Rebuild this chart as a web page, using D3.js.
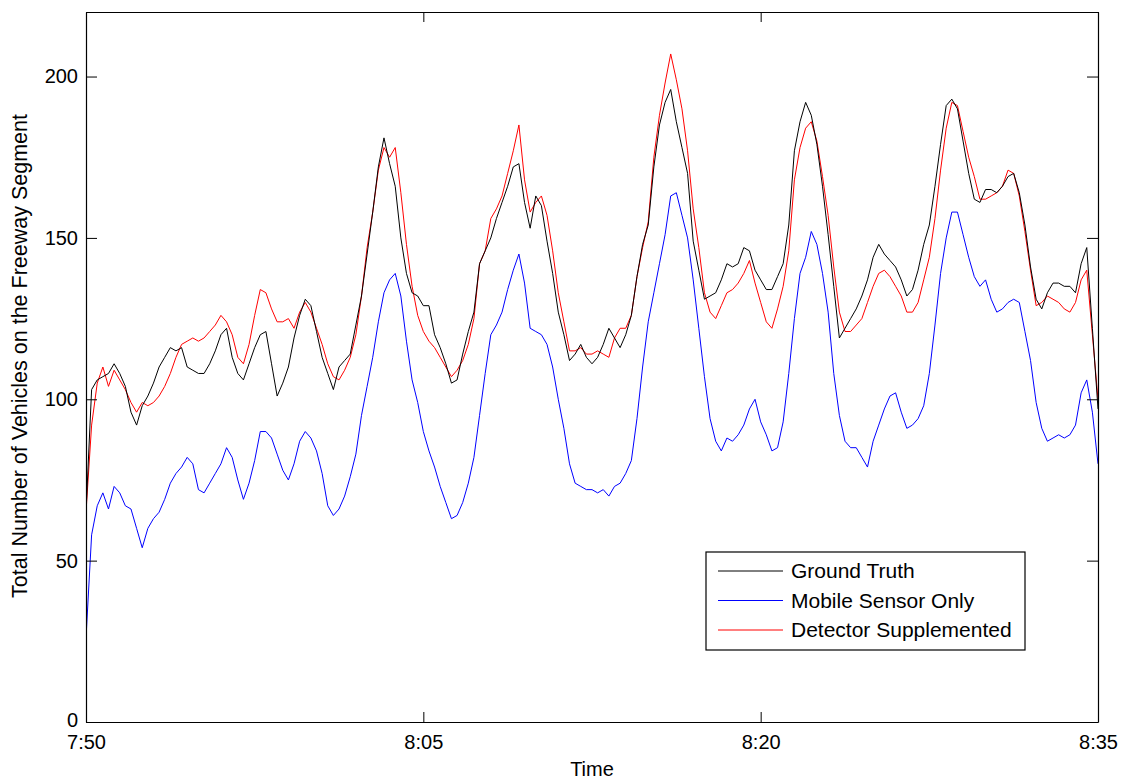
<!DOCTYPE html>
<html lang="en">
<head>
<meta charset="UTF-8">
<title>Total Number of Vehicles on the Freeway Segment</title>
<script src="https://d3js.org/d3.v7.min.js"></script>
<style>
  body { margin: 0; background: #fff; }
  svg { display: block; font-family: "Liberation Sans", Arial, sans-serif; }
  .tick text { font-size: 20px; fill: #000; }
  .series { fill: none; stroke-width: 1; }
</style>
</head>
<body>
<div id="chart"></div>
<script>
// sample times, minutes after 7:50 (one reading every 15 s)
const minutes = d3.range(181).map(i => i * 0.25);

const xTickValues = [0, 15, 30, 45];
const xTickLabels = ["7:50", "8:05", "8:20", "8:35"];
const yTickValues = [0, 50, 100, 150, 200];

const seriesNames = ["Ground Truth", "Mobile Sensor Only", "Detector Supplemented"];
const seriesColors = ["#000000", "#0000ff", "#ff0000"];

// Ground Truth
const groundTruth = [
  65, 103, 106, 107, 108, 111, 108, 104, 96, 92,
  98, 101, 105, 110, 113, 116, 115, 116, 110, 109,
  108, 108, 111, 115, 120, 122, 113, 108, 106, 111,
  116, 120, 121, 111, 101, 105, 110, 119, 126, 131,
  129, 121, 113, 108, 103, 110, 112, 114, 123, 132,
  145, 158, 172, 181, 173, 166, 150, 139, 133, 132,
  129, 129, 120, 116, 111, 105, 106, 114, 121, 127,
  142, 146, 150, 156, 161, 166, 172, 173, 161, 153,
  163, 160, 149, 139, 127, 120, 112, 114, 117, 113,
  111, 113, 117, 122, 119, 116, 120, 126, 138, 148,
  154, 172, 185, 192, 196, 186, 178, 170, 149, 140,
  131, 132, 133, 137, 142, 141, 142, 147, 146, 140,
  137, 134, 134, 138, 142, 154, 177, 186, 192, 188,
  179, 166, 151, 135, 119, 122, 125, 128, 132, 137,
  144, 148, 145, 143, 141, 137, 132, 134, 140, 148,
  154, 166, 179, 191, 193, 190, 180, 170, 162, 161,
  165, 165, 164, 166, 169, 170, 164, 154, 141, 131,
  128, 133, 136, 136, 135, 135, 133, 142, 147, 122,
  97
];

// Mobile Sensor Only
const mobileOnly = [
  26, 58, 67, 71, 66, 73, 71, 67, 66, 60,
  54, 60, 63, 65, 69, 74, 77, 79, 82, 80,
  72, 71, 74, 77, 80, 85, 82, 75, 69, 74,
  81, 90, 90, 88, 83, 78, 75, 80, 87, 90,
  88, 84, 77, 67, 64, 66, 70, 76, 83, 95,
  104, 113, 124, 133, 137, 139, 132, 118, 106, 99,
  90, 84, 79, 73, 68, 63, 64, 68, 74, 82,
  95, 108, 120, 123, 127, 134, 140, 145, 136, 122,
  121, 120, 117, 110, 100, 91, 80, 74, 73, 72,
  72, 71, 72, 70, 73, 74, 77, 81, 94, 110,
  124, 133, 142, 151, 163, 164, 157, 150, 137, 122,
  107, 94, 87, 84, 88, 87, 89, 92, 97, 100,
  93, 89, 84, 85, 93, 108, 125, 139, 144, 152,
  148, 139, 127, 108, 95, 87, 85, 85, 82, 79,
  87, 92, 97, 101, 102, 96, 91, 92, 94, 98,
  108, 123, 139, 150, 158, 158, 151, 144, 138, 135,
  137, 131, 127, 128, 130, 131, 130, 121, 112, 99,
  91, 87, 88, 89, 88, 89, 92, 102, 106, 96,
  80
];

// Detector Supplemented
const detectorSupp = [
  65, 92, 105, 110, 104, 109, 106, 103, 99, 96,
  99, 98, 99, 101, 104, 108, 113, 117, 118, 119,
  118, 119, 121, 123, 126, 124, 120, 113, 111, 117,
  126, 134, 133, 128, 124, 124, 125, 122, 127, 130,
  127, 122, 117, 111, 107, 106, 109, 113, 120, 132,
  147, 158, 171, 178, 175, 178, 164, 148, 135, 126,
  121, 118, 116, 113, 110, 107, 109, 112, 117, 125,
  142, 146, 156, 159, 163, 170, 177, 185, 168, 158,
  161, 163, 157, 146, 133, 124, 115, 115, 116, 114,
  114, 115, 114, 113, 119, 122, 122, 126, 138, 147,
  155, 175, 188, 198, 207, 199, 190, 177, 159, 147,
  133, 127, 125, 129, 133, 134, 136, 139, 143, 136,
  130, 124, 122, 128, 135, 146, 168, 178, 184, 186,
  180, 169, 157, 141, 127, 121, 121, 123, 125, 130,
  135, 139, 140, 138, 135, 132, 127, 127, 130, 137,
  144, 156, 171, 184, 192, 191, 183, 175, 169, 162,
  162, 163, 164, 166, 171, 170, 163, 152, 140, 129,
  130, 132, 131, 130, 128, 127, 130, 137, 140, 120,
  100
];

const seriesValues = [groundTruth, mobileOnly, detectorSupp];

const width = 1121;
const height = 779;
const margin = { top: 12, right: 23, bottom: 57, left: 86 };

const svg = d3.select("#chart").append("svg")
  .attr("width", width)
  .attr("height", height);

const x = d3.scaleLinear()
  .domain([0, 45])
  .range([margin.left, width - margin.right]);

const y = d3.scaleLinear()
  .domain([0, 220])
  .range([height - margin.bottom, margin.top]);

svg.append("clipPath").attr("id", "plot-clip")
  .append("rect")
  .attr("x", margin.left)
  .attr("y", margin.top)
  .attr("width", x.range()[1] - margin.left)
  .attr("height", y.range()[0] - margin.top);

// data lines (drawn first so the axes sit on top)
const line = d3.line()
  .x((d, i) => x(minutes[i]))
  .y(d => y(d));

// blue at the bottom, then red, black on top
const drawOrder = [1, 2, 0];
svg.append("g")
  .attr("clip-path", "url(#plot-clip)")
  .selectAll("path")
  .data(drawOrder)
  .enter().append("path")
  .attr("class", "series")
  .attr("stroke", i => seriesColors[i])
  .attr("d", i => line(seriesValues[i]));

// axes, matlab style: ticks point inward, mirrored on top and right
const xFmt = d => xTickLabels[xTickValues.indexOf(d)];

const xBottom = svg.append("g")
  .attr("transform", `translate(0,${y(0)})`)
  .call(d3.axisBottom(x).tickValues(xTickValues).tickFormat(xFmt).tickSizeInner(-10).tickSizeOuter(0).tickPadding(8));
xBottom.selectAll(".tick text").attr("dy", "0.95em");

svg.append("g")
  .attr("transform", `translate(0,${margin.top})`)
  .call(d3.axisTop(x).tickValues(xTickValues).tickFormat("").tickSizeInner(-10).tickSizeOuter(0));

const yLeft = svg.append("g")
  .attr("transform", `translate(${margin.left},0)`)
  .call(d3.axisLeft(y).tickValues(yTickValues).tickSizeInner(-11).tickSizeOuter(0).tickPadding(8));
// nudge the "0" up a little so it clears the 7:50 label
yLeft.selectAll(".tick text").filter(d => d === 0).attr("dy", "0.2em");

svg.append("g")
  .attr("transform", `translate(${x(45)},0)`)
  .call(d3.axisRight(y).tickValues(yTickValues).tickFormat("").tickSizeInner(-11).tickSizeOuter(0));

svg.selectAll(".domain").attr("stroke", "#000").attr("stroke-width", 1.2);
svg.selectAll(".tick line").attr("stroke", "#000");

// axis titles
svg.append("text")
  .attr("x", (x(0) + x(45)) / 2)
  .attr("y", 776)
  .attr("text-anchor", "middle")
  .attr("font-size", 20)
  .text("Time");

svg.append("text")
  .attr("transform", "translate(27,356) rotate(-90)")
  .attr("text-anchor", "middle")
  .attr("font-size", 21.5)
  .text("Total Number of Vehicles on the Freeway Segment");

// legend
const legend = svg.append("g").attr("transform", "translate(706,552)");

legend.append("rect")
  .attr("width", 319)
  .attr("height", 98)
  .attr("fill", "#fff")
  .attr("stroke", "#000")
  .attr("stroke-width", 1.2);

const item = legend.selectAll(".item")
  .data(seriesNames)
  .enter().append("g")
  .attr("class", "item")
  .attr("transform", (d, i) => `translate(0,${19 + i * 29.5})`);

item.append("line")
  .attr("x1", 12)
  .attr("x2", 77)
  .attr("stroke", (d, i) => seriesColors[i]);

item.append("text")
  .attr("x", 85)
  .attr("dy", "0.35em")
  .attr("font-size", 21)
  .text(d => d);
</script>
</body>
</html>
